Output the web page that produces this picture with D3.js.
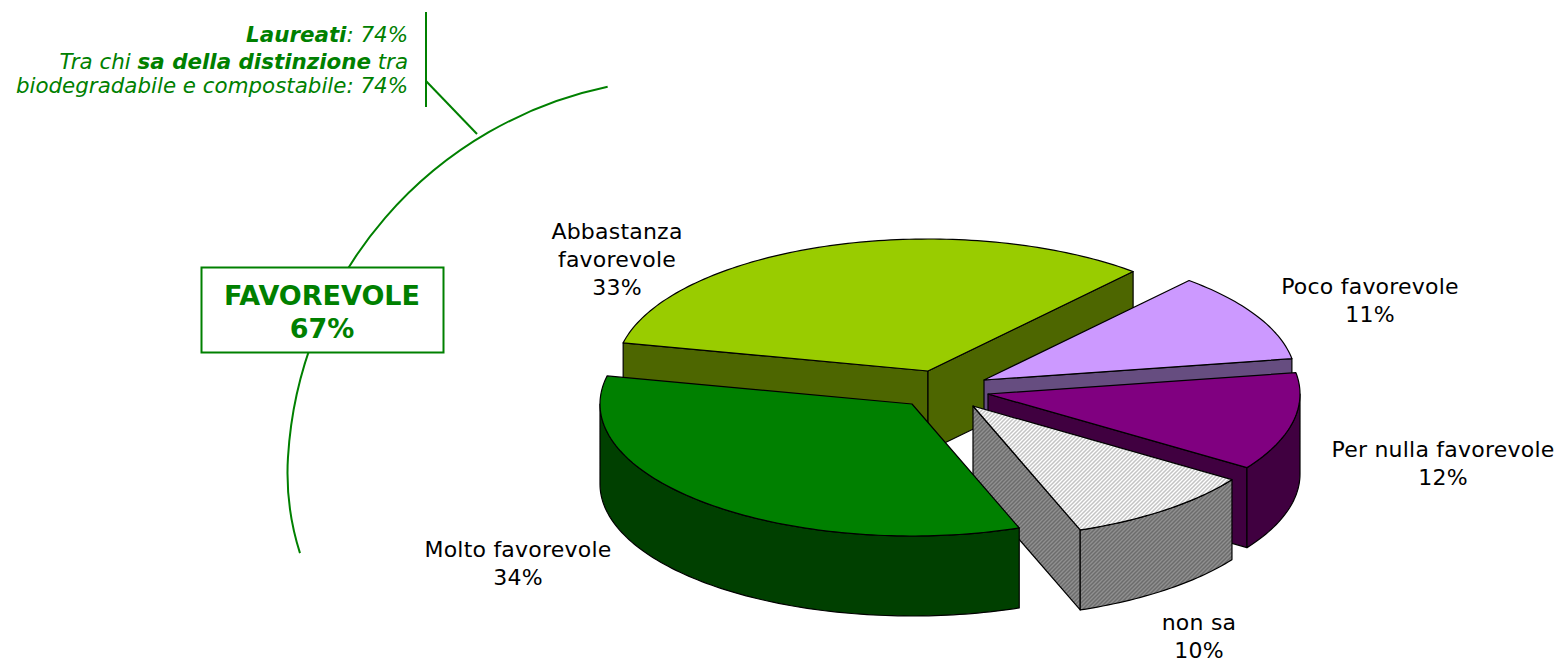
<!DOCTYPE html>
<html><head><meta charset="utf-8">
<script src="https://cdn.jsdelivr.net/npm/d3@7"></script>
<style>html,body{margin:0;padding:0;background:#fff}svg{display:block}text{font-family:"DejaVu Sans",Verdana,sans-serif}</style>
</head><body><svg id="c" width="1558" height="662"></svg>
<script>
// --- data ---
const categories = ["Poco favorevole","Per nulla favorevole","non sa","Molto favorevole","Abbastanza favorevole"];
const values = [11,12,10,34,33];
const labelLines = [["Poco favorevole","11%"],["Per nulla favorevole","12%"],["non sa","10%"],["Molto favorevole","34%"],["Abbastanza","favorevole","33%"]];
// --- layout ---
const W=1558,H=662, rx=312, ry=132, depth=80, startDeg=41.1;
const explodeX=[984,988,973,912,928], explodeY=[380,394,406,404,371];
const drawOrder=[4,0,1,2,3];
const labelPos=[[1370,294],[1443,457],[1199,630],[518,557],[617,239]];
const tops=["#CC99FF","#800080","url(#hatchTop)","#008000","#99CC00"];
const walls=["#664D80","#400040","url(#hatchWall)","#004000","#4D6600"];
const GREEN="#008000";

const svg=d3.select("#c");
const defs=svg.append("defs");
const pTop=defs.append("pattern").attr("id","hatchTop").attr("patternUnits","userSpaceOnUse").attr("width",4).attr("height",4);
pTop.append("rect").attr("width",4).attr("height",4).attr("fill","#fff");
pTop.append("path").attr("d","M-1,1L1,-1M0,4L4,0M3,5L5,3").attr("stroke","#c4c4c4").attr("stroke-width",1.5);
const pWall=defs.append("pattern").attr("id","hatchWall").attr("patternUnits","userSpaceOnUse").attr("width",4).attr("height",4);
pWall.append("rect").attr("width",4).attr("height",4).attr("fill","#909090");
pWall.append("path").attr("d","M-1,1L1,-1M0,4L4,0M3,5L5,3").attr("stroke","#6c6c6c").attr("stroke-width",1.5);

const arcs=d3.pie().sort(null).value(d=>d).startAngle(startDeg*Math.PI/180).endAngle((startDeg+360)*Math.PI/180)(values);
const sx=d3.scaleLinear().domain([0,1]).range([0,rx]);
const sy=d3.scaleLinear().domain([0,1]).range([0,ry]);
const pt=(i,t,dz=0)=>[explodeX[i]+sx(Math.sin(t)),explodeY[i]-sy(Math.cos(t))+dz];
function arcPts(i,a,b,dz){const n=Math.max(2,Math.ceil(Math.abs(b-a)/0.02));return d3.range(n+1).map(k=>pt(i,a+(b-a)*k/n,dz));}
const line=d3.line();
const g=svg.append("g").attr("stroke","#000").attr("stroke-width",1.2).attr("stroke-linejoin","round");
drawOrder.forEach(i=>{
  const {startAngle:a,endAngle:b}=arcs[i];
  const apex=[explodeX[i],explodeY[i]];
  const apexD=[apex[0],apex[1]+depth];
  const wall=(t)=>g.append("path").attr("fill",walls[i]).attr("d",line([apex,pt(i,t),pt(i,t,depth),apexD])+"Z");
  if(Math.sin(a)<0) wall(a);
  if(Math.sin(b)>0) wall(b);
  const lo=Math.max(a,Math.PI/2), hi=Math.min(b,1.5*Math.PI);
  if(hi>lo) g.append("path").attr("fill",walls[i]).attr("d",line(arcPts(i,lo,hi,0).concat(arcPts(i,hi,lo,depth)))+"Z");
  g.append("path").attr("fill",tops[i]).attr("d",line([apex].concat(arcPts(i,a,b,0)))+"Z");
});

// labels
const FS=22, LH=28;
labelLines.forEach((ls,i)=>{
  const t=svg.append("text").attr("text-anchor","middle").attr("font-size",FS).attr("letter-spacing",0.22).attr("fill","#000");
  ls.forEach((s,k)=>t.append("tspan").attr("x",labelPos[i][0]).attr("y",labelPos[i][1]+k*LH).text(s));
});

// annotation arc: two tangent circular pieces
const deg=Math.PI/180, bracket=d3.path();
bracket.arc(690,481,402.7,-101.8*deg,-176.6*deg,true);
bracket.arc(551,473,263.5,-176.5*deg,162.3*deg,true);
svg.append("path").attr("fill","none").attr("stroke",GREEN).attr("stroke-width",2).attr("d",bracket.toString());
svg.append("path").attr("fill","none").attr("stroke",GREEN).attr("stroke-width",2).attr("d",line([[426,12],[426,107]]));
svg.append("path").attr("fill","none").attr("stroke",GREEN).attr("stroke-width",2).attr("d",line([[426,81],[477,134]]));
svg.append("rect").attr("x",201.5).attr("y",267.5).attr("width",242).attr("height",85).attr("fill","#fff").attr("stroke",GREEN).attr("stroke-width",2);
const box=svg.append("text").attr("text-anchor","middle").attr("font-size",27).attr("font-weight","bold").attr("fill",GREEN);
box.append("tspan").attr("x",322).attr("y",305).text("FAVOREVOLE");
box.append("tspan").attr("x",322).attr("y",338).text("67%");

const note=svg.append("text").attr("text-anchor","end").attr("font-size",21.4).attr("font-style","italic").attr("fill",GREEN);
const l1=note.append("tspan").attr("x",408).attr("y",42);
l1.append("tspan").attr("font-weight","bold").text("Laureati");l1.append("tspan").text(": 74%");
const l2=note.append("tspan").attr("x",408).attr("y",69);
l2.append("tspan").text("Tra chi ");l2.append("tspan").attr("font-weight","bold").text("sa della distinzione");l2.append("tspan").text(" tra");
note.append("tspan").attr("x",408).attr("y",93).text("biodegradabile e compostabile: 74%");
</script></body></html>
